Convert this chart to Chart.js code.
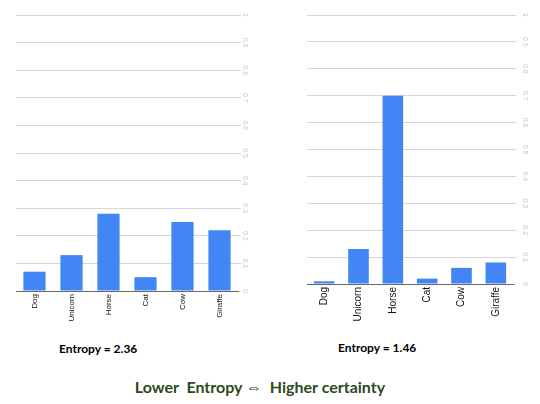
<!DOCTYPE html>
<html>
<head>
<meta charset="utf-8">
<script src="https://cdn.jsdelivr.net/npm/chart.js@4.4.1/dist/chart.umd.min.js"></script>
<style>
  html, body { margin: 0; padding: 0; background: #fff; }
  #wrap { position: relative; width: 540px; height: 404px; overflow: hidden; background: #fff; }
  .box { position: absolute; top: 0; width: 270px; height: 335px; }
  .cap { position: absolute; font-family: Lato, "Open Sans", sans-serif; font-weight: bold; white-space: nowrap; }
</style>
</head>
<body>
<div id="wrap">
  <div class="box" style="left:0"><canvas id="leftChart"></canvas></div>
  <div class="box" style="left:270px"><canvas id="rightChart"></canvas></div>
  <div class="cap" id="leftCap" style="left:59px; top:341px; font-size:12px; color:#000;"></div>
  <div class="cap" id="rightCap" style="left:338px; top:340px; font-size:12px; color:#000;"></div>
  <div class="cap" id="footer" style="left:0; width:520px; top:377px; text-align:center; font-size:16px; color:#2c4a1c;"></div>
</div>
<script>
// animals and their probabilities
const animals = ['Dog', 'Unicorn', 'Horse', 'Cat', 'Cow', 'Giraffe']
const spreadProbs = [0.07, 0.13, 0.28, 0.05, 0.25, 0.22]
const peakedProbs = [0.01, 0.13, 0.70, 0.02, 0.06, 0.08]
const yTicks = [0, 0.1, 0.2, 0.3, 0.4, 0.5, 0.6, 0.7, 0.8, 0.9, 1]
const leftEntropy = 'Entropy = 2.36'
const rightEntropy = 'Entropy = 1.46'
const footerText = 'Lower\u00a0 Entropy \u21d4\u00a0 Higher certainty'

document.getElementById('leftCap').textContent = leftEntropy
document.getElementById('rightCap').textContent = rightEntropy
document.getElementById('footer').textContent = footerText

// y tick labels are drawn turned sideways, like the original
const sidewaysTicks = {
  id: 'sidewaysTicks',
  afterDraw(chart, args, opts) {
    const sc = chart.scales.y
    const ctx = chart.ctx
    ctx.save()
    ctx.font = '7px "Liberation Sans", Arial, sans-serif'
    ctx.fillStyle = '#c8c8c8'
    ctx.textAlign = 'center'
    ctx.textBaseline = 'middle'
    yTicks.forEach((v) => {
      const y = sc.getPixelForValue(v)
      ctx.save()
      ctx.translate(opts.x, y)
      ctx.rotate(Math.PI / 2)
      ctx.fillText(String(v), 0, 0)
      ctx.restore()
    })
    ctx.restore()
  }
}

function makeChart(id, values, cfg) {
  const ctx = document.getElementById(id)
  return new Chart(ctx, {
    type: 'bar',
    data: {
      labels: animals,
      datasets: [{
        data: values,
        backgroundColor: '#4285f4',
        barPercentage: 0.6,
        categoryPercentage: 1
      }]
    },
    options: {
      responsive: true,
      maintainAspectRatio: false,
      animation: false,
      devicePixelRatio: 1,
      layout: { padding: { left: cfg.padLeft, top: 15, right: 0, bottom: 0 } },
      plugins: {
        legend: { display: false },
        tooltip: { enabled: false },
        sidewaysTicks: { x: cfg.tickX }
      },
      scales: {
        x: {
          grid: { display: false, drawTicks: false },
          border: { display: true, color: '#666', width: 1 },
          ticks: {
            autoSkip: false,
            minRotation: 90,
            maxRotation: 90,
            padding: 3,
            color: '#111',
            font: { family: '"Liberation Sans", Arial, sans-serif', size: cfg.labelSize }
          },
          afterFit: (scale) => { scale.height = cfg.xHeight }
        },
        y: {
          position: 'right',
          min: 0,
          max: 1,
          afterBuildTicks: (scale) => { scale.ticks = yTicks.map((v) => ({ value: v })) },
          grid: { color: '#d6d6d6', lineWidth: 1, drawTicks: true, tickLength: 3 },
          border: { display: false },
          ticks: { display: false },
          afterFit: (scale) => { scale.width = cfg.yWidth }
        }
      }
    },
    plugins: [sidewaysTicks]
  })
}

makeChart('leftChart', spreadProbs, { padLeft: 16, yWidth: 32, xHeight: 44, labelSize: 8, tickX: 245 })
makeChart('rightChart', peakedProbs, { padLeft: 37, yWidth: 27, xHeight: 51, labelSize: 10, tickX: 255 })
</script>
</body>
</html>
